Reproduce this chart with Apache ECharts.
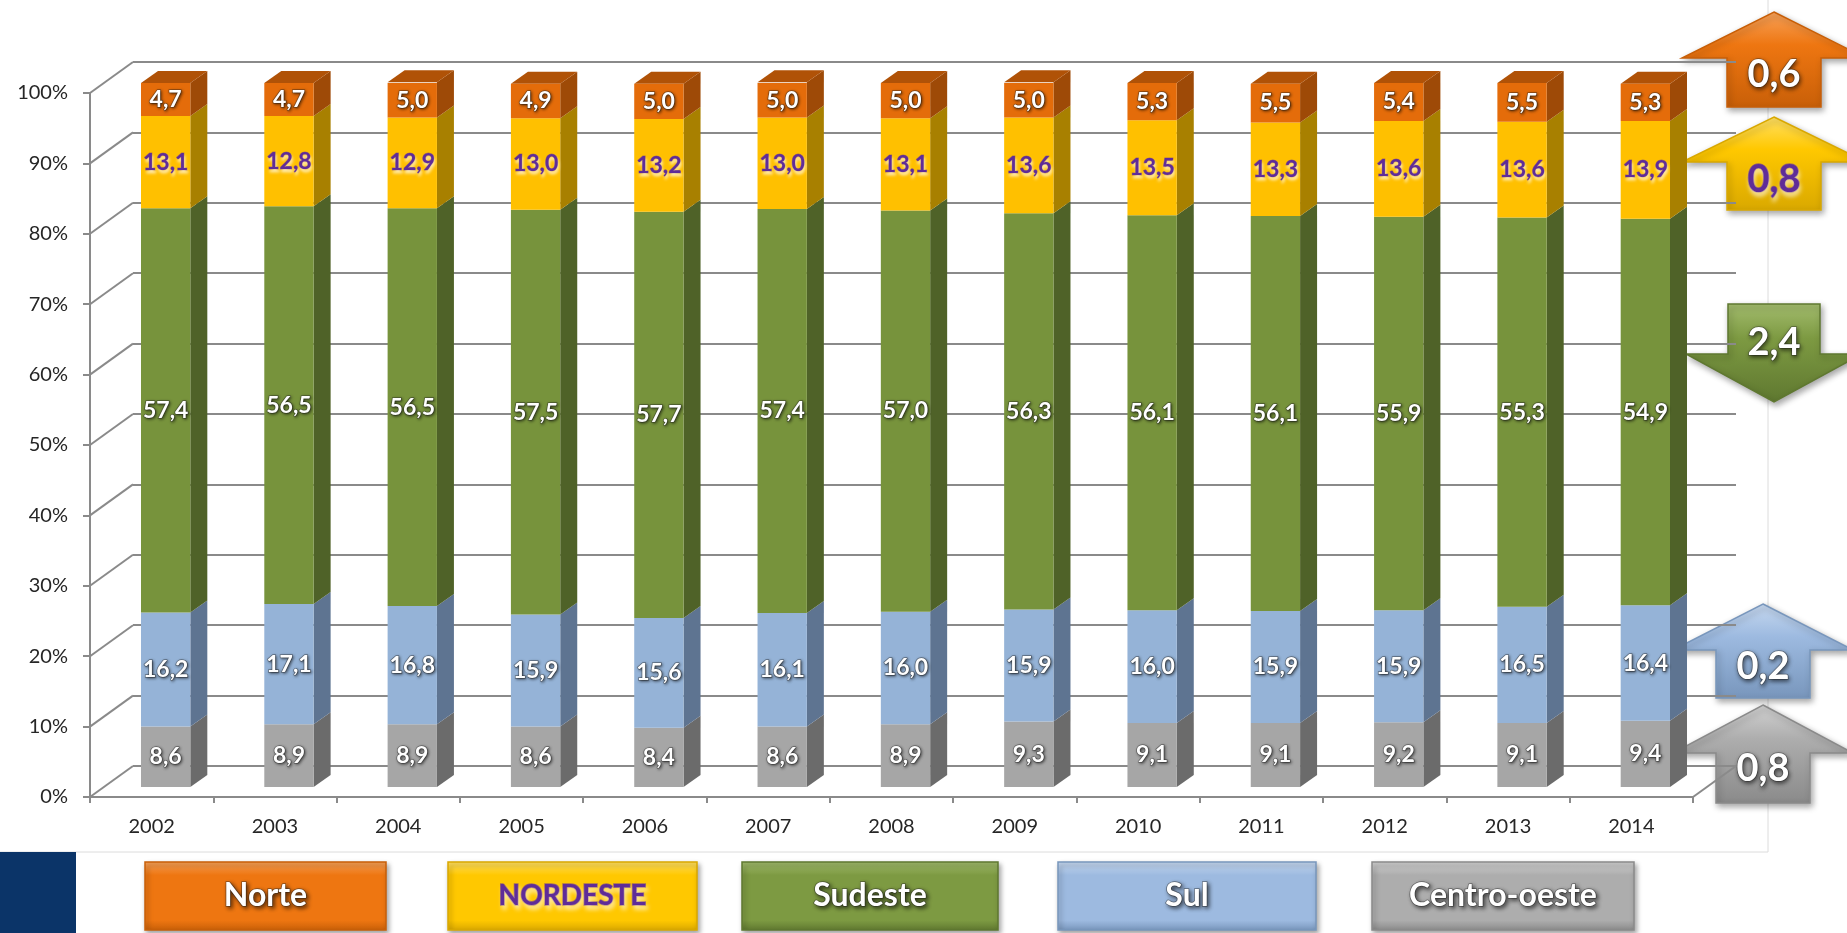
<!DOCTYPE html>
<html>
<head>
<meta charset="utf-8">
<script src="https://cdn.jsdelivr.net/npm/echarts@6/dist/echarts.min.js"></script>
<style>
    html, body { margin: 0; padding: 0; background: #fff; }
    #chart { width: 1847px; height: 933px; }
</style>
</head>
<body>
<div id="chart"></div>
<script>
    // dados (% por região)
    var anos = ['2002', '2003', '2004', '2005', '2006', '2007', '2008', '2009', '2010', '2011', '2012', '2013', '2014'];
    var norte = [4.7, 4.7, 5.0, 4.9, 5.0, 5.0, 5.0, 5.0, 5.3, 5.5, 5.4, 5.5, 5.3];
    var nordeste = [13.1, 12.8, 12.9, 13.0, 13.2, 13.0, 13.1, 13.6, 13.5, 13.3, 13.6, 13.6, 13.9];
    var sudeste = [57.4, 56.5, 56.5, 57.5, 57.7, 57.4, 57.0, 56.3, 56.1, 56.1, 55.9, 55.3, 54.9];
    var sul = [16.2, 17.1, 16.8, 15.9, 15.6, 16.1, 16.0, 15.9, 16.0, 15.9, 15.9, 16.5, 16.4];
    var centroOeste = [8.6, 8.9, 8.9, 8.6, 8.4, 8.6, 8.9, 9.3, 9.1, 9.1, 9.2, 9.1, 9.4];
    var regioes = ['Norte', 'NORDESTE', 'Sudeste', 'Sul', 'Centro-oeste'];
    var variacao = [0.6, 0.8, -2.4, 0.2, 0.8];
    var yTicks = [0, 10, 20, 30, 40, 50, 60, 70, 80, 90, 100];

    var valores = [norte, nordeste, sudeste, sul, centroOeste];
    var corFrente = ['#E46C0A', '#FFC000', '#77933C', '#95B3D7', '#A6A6A6'];
    var corLado = ['#9E4A07', '#A88000', '#4F6228', '#5E7491', '#6B6B6B'];
    var corTopo = '#B05207';
    var corTexto = ['#fff', '#5F2C98', '#fff', '#fff', '#fff'];
    var corBotao = [['#F7A25A', '#EE7611', '#C85F08'], ['#FFE066', '#FFC800', '#D9A800'], ['#A3BC6E', '#7D9A42', '#5F7830'],
                    ['#C7D9F0', '#9DBAE0', '#7896BC'], ['#D2D2D2', '#ADADAD', '#8A8A8A']];

    var DX = 43, DY = -31;       // profundidade da parede
    var BX = 17, BY = -12;       // profundidade da barra
    var cinza = '#8a8a8a';

    var fmt = function (v) { return Math.abs(v).toFixed(1).replace('.', ','); };

    function ladoBarra(k, topo) {
        return function (params, api) {
            var i = api.value(0);
            var p0 = api.coord([i, api.value(1)]);
            var p1 = api.coord([i, api.value(2)]);
            var w = api.size([1, 0])[0] * 0.4;
            var xl = p0[0] - w / 2, xr = p0[0] + w / 2;
            var kids = [{
                type: 'polygon',
                shape: { points: [[xr, p0[1]], [xr + BX, p0[1] + BY], [xr + BX, p1[1] + BY], [xr, p1[1]]] },
                style: { fill: corLado[k] }
            }];
            if (topo) {
                kids.push({
                    type: 'polygon',
                    shape: { points: [[xl, p1[1]], [xl + BX, p1[1] + BY], [xr + BX, p1[1] + BY], [xr, p1[1]]] },
                    style: { fill: corTopo }
                });
            }
            return { type: 'group', children: kids };
        };
    }

    var series = [];

    // parede lateral e piso
    series.push({
        type: 'custom', xAxisIndex: 0, yAxisIndex: 0, silent: true, clip: false,
        data: yTicks.map(function (v) { return [0, v]; }),
        encode: { x: 0, y: 1 },
        renderItem: function (params, api) {
            var cs = params.coordSys;
            var y = api.coord([0, api.value(1)])[1];
            var kids = [{ type: 'line', shape: { x1: cs.x, y1: y, x2: cs.x + DX, y2: y + DY }, style: { stroke: cinza, lineWidth: 2 } }];
            if (api.value(1) === 0) {
                kids.push({ type: 'line', shape: { x1: cs.x + cs.width, y1: y, x2: cs.x + cs.width + DX, y2: y + DY }, style: { stroke: cinza, lineWidth: 2 } });
            }
            return { type: 'group', children: kids };
        }
    });

    var ordem = [4, 3, 2, 1, 0];
    var acumulado = anos.map(function () { return 0; });
    ordem.forEach(function (k, pos) {
        var dados = valores[k];
        var faces = anos.map(function (a, j) {
            var b = acumulado[j];
            acumulado[j] += dados[j];
            return [j, b, acumulado[j]];
        });
        series.push({
            type: 'bar', name: regioes[k], stack: 'total', xAxisIndex: 2, yAxisIndex: 2,
            data: dados, barWidth: '40%', z: 3,
            itemStyle: { color: corFrente[k] },
            label: {
                show: true, position: 'inside',
                formatter: function (p) { return fmt(p.value); },
                fontFamily: 'Lato', fontWeight: 'bold', fontSize: 23,
                color: corTexto[k],
                textBorderColor: k === 1 ? 'rgba(95,44,152,0.5)' : 'rgba(40,40,40,0.45)', textBorderWidth: k === 1 ? 0.8 : 1.5,
                textShadowColor: k === 1 ? 'rgba(255,255,255,0.7)' : 'rgba(0,0,0,0.6)',
                textShadowBlur: 3, textShadowOffsetX: 1, textShadowOffsetY: k === 1 ? 3 : 1
            }
        });
        series.push({
            type: 'custom', xAxisIndex: 2, yAxisIndex: 2, silent: true, clip: false, z: 2,
            data: faces, encode: { x: 0, y: [1, 2] },
            renderItem: ladoBarra(k, pos === ordem.length - 1)
        });
    });

    // setas de variação 2002-2014
    var setas = [
        { cx: 1774, top: 12, base: 58, fim: 107, hw: 92, sw: 47, ty: 75 },
        { cx: 1774, top: 117, base: 162, fim: 210, hw: 92, sw: 47, ty: 180 },
        { cx: 1774, top: 304, base: 354, fim: 402, hw: 88, sw: 46, ty: 343 },
        { cx: 1763, top: 604, base: 650, fim: 698, hw: 90, sw: 47, ty: 667 },
        { cx: 1763, top: 705, base: 753, fim: 803, hw: 90, sw: 47, ty: 769 }
    ];
    var graficos = [
        { type: 'line', shape: { x1: 1768, y1: 0, x2: 1768, y2: 852 }, style: { stroke: '#dcdcdc', lineWidth: 1 } },
        { type: 'line', shape: { x1: 0, y1: 852, x2: 1768, y2: 852 }, style: { stroke: '#dcdcdc', lineWidth: 1 } },
        { type: 'rect', shape: { x: 0, y: 852, width: 76, height: 81 }, style: { fill: '#0B3468' } }
    ];
    setas.forEach(function (s, k) {
        var pts;
        if (variacao[k] >= 0) {
            pts = [[s.cx, s.top], [s.cx + s.hw, s.base], [s.cx + s.sw, s.base], [s.cx + s.sw, s.fim],
                   [s.cx - s.sw, s.fim], [s.cx - s.sw, s.base], [s.cx - s.hw, s.base]];
        } else {
            pts = [[s.cx - s.sw, s.top], [s.cx + s.sw, s.top], [s.cx + s.sw, s.base], [s.cx + s.hw, s.base],
                   [s.cx, s.fim], [s.cx - s.hw, s.base], [s.cx - s.sw, s.base]];
        }
        graficos.push({
            type: 'polygon', shape: { points: pts },
            style: {
                fill: new echarts.graphic.LinearGradient(0, 0, 0, 1, [
                    { offset: 0, color: corBotao[k][0] }, { offset: 0.35, color: corBotao[k][1] }, { offset: 1, color: corBotao[k][2] }
                ]),
                stroke: corBotao[k][2], lineWidth: 1.5,
                shadowBlur: 6, shadowOffsetX: 2, shadowOffsetY: 3, shadowColor: 'rgba(0,0,0,0.35)'
            }
        });
        graficos.push({
            type: 'text', x: s.cx, y: s.ty,
            style: {
                text: fmt(variacao[k]), align: 'center', verticalAlign: 'middle',
                font: 'bold 38px Lato', fill: corTexto[k],
                stroke: k === 1 ? 'rgba(95,44,152,0.6)' : 'rgba(40,40,40,0.45)', lineWidth: 1.5,
                textShadowColor: k === 1 ? 'rgba(255,255,255,0.6)' : 'rgba(0,0,0,0.6)',
                textShadowBlur: 4, textShadowOffsetX: 1, textShadowOffsetY: k === 1 ? 4 : 2
            }
        });
    });

    // legenda em botões
    var botoes = [[145, 241], [448, 249], [742, 256], [1058, 258], [1372, 262]];
    botoes.forEach(function (b, k) {
        graficos.push({
            type: 'rect', shape: { x: b[0], y: 862, width: b[1], height: 68 },
            style: {
                fill: new echarts.graphic.LinearGradient(0, 0, 0, 1, [
                    { offset: 0, color: corBotao[k][0] }, { offset: 0.2, color: corBotao[k][1] },
                    { offset: 0.85, color: corBotao[k][1] }, { offset: 1, color: corBotao[k][2] }
                ]),
                stroke: corBotao[k][2], lineWidth: 1.5,
                shadowBlur: 5, shadowOffsetX: 2, shadowOffsetY: 3, shadowColor: 'rgba(0,0,0,0.35)'
            }
        });
        graficos.push({
            type: 'text', x: b[0] + b[1] / 2, y: 896,
            style: {
                text: regioes[k], align: 'center', verticalAlign: 'middle',
                font: 'bold ' + (k === 1 ? 28 : 32) + 'px Lato', fill: corTexto[k],
                stroke: k === 1 ? 'rgba(95,44,152,0.6)' : 'rgba(40,40,40,0.5)', lineWidth: 1.5,
                textShadowColor: k === 1 ? 'rgba(255,255,255,0.6)' : 'rgba(0,0,0,0.65)',
                textShadowBlur: 4, textShadowOffsetX: 2, textShadowOffsetY: k === 1 ? 4 : 2
            }
        });
    });

    var chart = echarts.init(document.getElementById('chart'));
    chart.setOption({
        backgroundColor: '#ffffff',
        animation: false,
        textStyle: { fontFamily: 'Lato' },
        grid: [
            { left: 90, top: 93, width: 1603, height: 704 },   // plano frontal
            { left: 133, top: 62, width: 1603, height: 704 },  // parede do fundo
            { left: 104, top: 83, width: 1603, height: 704 }   // barras
        ],
        xAxis: [
            {
                gridIndex: 0, type: 'category', data: anos,
                axisLine: { show: true, lineStyle: { color: cinza, width: 2 } },
                axisTick: { show: true, length: 6, lineStyle: { color: cinza, width: 2 } },
                axisLabel: { fontSize: 20, color: '#262626', margin: 20 }
            },
            { gridIndex: 1, type: 'category', data: anos, show: false },
            { gridIndex: 2, type: 'category', data: anos, show: false }
        ],
        yAxis: [
            {
                gridIndex: 0, type: 'value', min: 0, max: 100, interval: 10,
                axisLine: { show: true, lineStyle: { color: cinza, width: 2 } },
                axisTick: { show: true, length: 7, lineStyle: { color: cinza, width: 2 } },
                axisLabel: { formatter: '{value}%', fontSize: 20, color: '#262626', margin: 22 },
                splitLine: { show: false }
            },
            {
                gridIndex: 1, type: 'value', min: 0, max: 100, interval: 10,
                axisLine: { show: false }, axisTick: { show: false }, axisLabel: { show: false },
                splitLine: { show: true, lineStyle: { color: cinza, width: 2 } }
            },
            { gridIndex: 2, type: 'value', min: 0, max: 100, show: false, splitLine: { show: false } }
        ],
        series: series,
        graphic: graficos
    });
</script>
</body>
</html>
